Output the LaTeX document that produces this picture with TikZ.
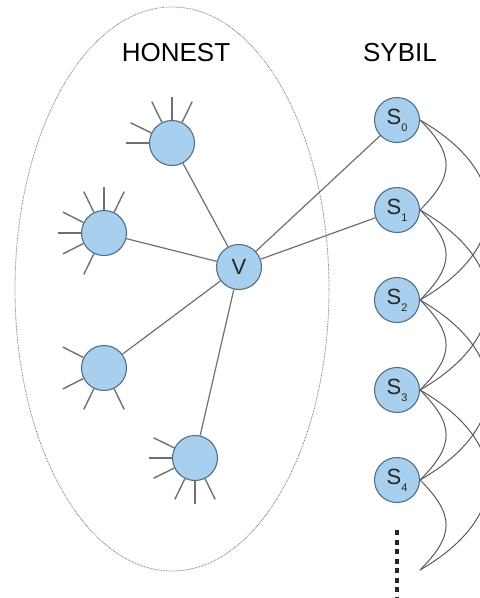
\documentclass[tikz,border=0pt]{standalone}
\usepackage{fontspec}
\setmainfont{Liberation Sans}
\definecolor{nodefill}{RGB}{168,208,238}
\definecolor{nodeborder}{RGB}{80,110,135}
\definecolor{linkgray}{RGB}{112,112,112}
\definecolor{arcgray}{RGB}{90,90,90}
\definecolor{ellgray}{RGB}{130,130,130}
\newcommand{\slab}[1]{S\raisebox{-7pt}{\fontsize{11}{11}\selectfont #1}}
\begin{document}
\begin{tikzpicture}[x=1pt,y=-1pt,
  hnode/.style={circle,draw=nodeborder,fill=nodefill,line width=1.1pt,minimum size=45pt,inner sep=0pt,font=\fontsize{22}{22}\selectfont,text=black!85},
  link/.style={draw=linkgray,line width=1.2pt},
  spoke/.style={draw=linkgray,line width=1.4pt},
  arcline/.style={draw=arcgray,line width=1pt},
  region/.style={draw=ellgray,line width=0.8pt,dash pattern=on 0.8pt off 0.8pt},
  title/.style={font=\fontsize{26}{26}\selectfont,text=black},
  dotsline/.style={draw=black!85,line width=4pt,dash pattern=on 5pt off 4.5pt}]
\useasboundingbox (0,0) rectangle (480,598);
\clip (0,0) rectangle (480,598);
\fill[white] (0,0) rectangle (480,598);
% honest region
\draw[region] (172,289) ellipse [x radius=157pt, y radius=282pt];
% titles
\node[title] (honest) at (176,53) {HONEST};
\node[title] (sybil) at (400,53) {SYBIL};
% nodes
\node[hnode] (v) at (239,267) {V};
\node[hnode] (h1) at (172,143) {};
\node[hnode] (h2) at (104,233) {};
\node[hnode] (h3) at (104,368) {};
\node[hnode] (h4) at (195,458) {};
\foreach \i in {0,...,4}{
  \node[hnode] (s\i) at (397,120+90*\i) {\slab{\i}};
}
\coordinate (s5) at (420,570);
% spokes
\foreach \a in {64,90,116,154,180}{\draw[spoke] (h1.\a) -- ++(\a:23pt);}
\foreach \a in {64,90,116,153,180,207,244}{\draw[spoke] (h2.\a) -- ++(\a:23pt);}
\foreach \a in {153,207,244,296}{\draw[spoke] (h3.\a) -- ++(\a:23pt);}
\foreach \a in {154,180,206,244,270,296}{\draw[spoke] (h4.\a) -- ++(\a:23pt);}
% links
\foreach \n in {h1,h2,h3,h4,s0,s1}{\draw[link] (v) -- (\n);}
% sybil arcs
\foreach \i/\j in {0/1,1/2,2/3,3/4}{
  \draw[arcline] (s\i.east) to[out=-45,in=45,looseness=1.4] (s\j.east);
}
\draw[arcline] (s4.east) to[out=-45,in=45,looseness=1.4] (s5);
\foreach \i/\j in {0/2,1/3,2/4}{
  \draw[arcline] (s\i.east) to[out=-30,in=30,looseness=1.5] (s\j.east);
}
\draw[arcline] (s3.east) to[out=-30,in=30,looseness=1.5] (s5);
% continuation dots
\coordinate (dtop) at (397,530);
\coordinate (dbot) at (397,598);
\draw[dotsline] (dtop) -- (dbot);
\end{tikzpicture}
\end{document}
